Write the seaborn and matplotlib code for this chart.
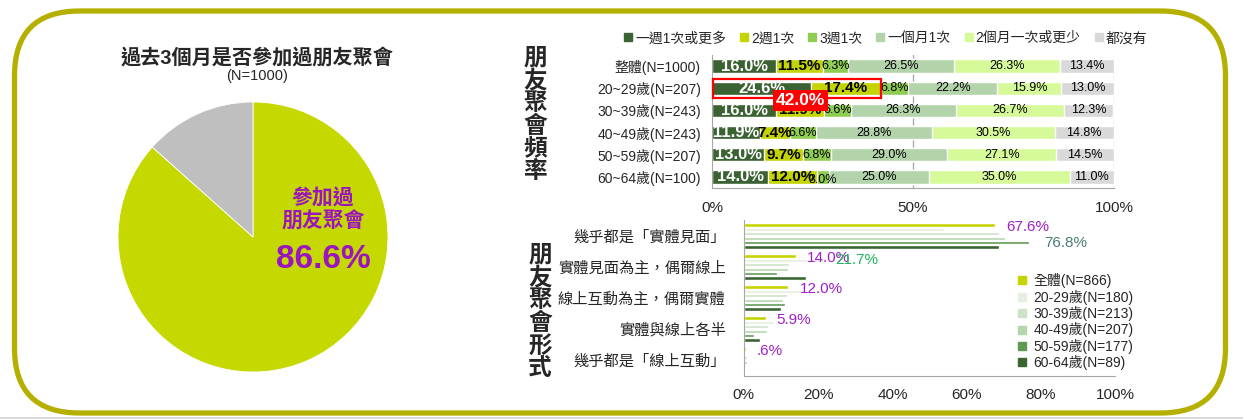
import numpy as np
import pandas as pd
import matplotlib
matplotlib.use("Agg")
import matplotlib.pyplot as plt
import seaborn as sns
from matplotlib.patches import FancyBboxPatch, Rectangle
from matplotlib.lines import Line2D

sns.set_style("white")
plt.rcParams['font.family'] = ['Liberation Sans', 'Noto Sans CJK TC', 'DejaVu Sans']

# pie: 過去3個月是否參加過朋友聚會
pie_labels = ["參加過", "沒有"]
pie_values = [86.6, 13.4]
pie_colors = ["#c5d800", "#bfbfbf"]

# 朋友聚會頻率 (stacked %)
freq_rows = ["整體(N=1000)", "20~29歲(N=207)", "30~39歲(N=243)",
             "40~49歲(N=243)", "50~59歲(N=207)", "60~64歲(N=100)"]
freq_cats = ["一週1次或更多", "2週1次", "3週1次", "一個月1次", "2個月一次或更少", "都沒有"]
freq_colors = ["#3b6233", "#c3d400", "#8fcc52", "#b3d4ab", "#d6f99a", "#d9d9d9"]
weekly = [16.0, 24.6, 16.0, 11.9, 13.0, 14.0]
biweekly = [11.5, 17.4, 11.9, 7.4, 9.7, 12.0]
triweekly = [6.3, 6.8, 6.6, 6.6, 6.8, 3.0]
monthly = [26.5, 22.2, 26.3, 28.8, 29.0, 25.0]
bimonthly = [26.3, 15.9, 26.7, 30.5, 27.1, 35.0]
never = [13.4, 13.0, 12.3, 14.8, 14.5, 11.0]

# 朋友聚會形式 (grouped %)
forms = ["幾乎都是「實體見面」", "實體見面為主，偶爾線上", "線上互動為主，偶爾實體",
         "實體與線上各半", "幾乎都是「線上互動」"]
form_groups = ["全體(N=866)", "20-29歲(N=180)", "30-39歲(N=213)",
               "40-49歲(N=207)", "50-59歲(N=177)", "60-64歲(N=89)"]
form_colors = ["#c5d400", "#e6f0e2", "#cde3c8", "#b5d6ac", "#5e9a52", "#3b6433"]
form_all = [67.6, 14.0, 12.0, 5.9, 0.6]
form_20s = [53.9, 21.7, 15.5, 8.2, 0.0]
form_30s = [68.7, 12.2, 11.7, 6.5, 0.9]
form_40s = [70.3, 11.9, 10.6, 6.3, 0.9]
form_50s = [76.8, 9.0, 11.1, 2.8, 0.0]
form_60s = [68.7, 16.8, 10.0, 4.4, 0.0]

W, H = 1243, 419
fig = plt.figure(figsize=(W / 100, H / 100), dpi=100)


def box(left, top, right, bottom):
    return [left / W, 1 - bottom / H, (right - left) / W, (bottom - top) / H]


# background frame
bg = fig.add_axes([0, 0, 1, 1], zorder=-5)
bg.set_xlim(0, W)
bg.set_ylim(H, 0)
bg.axis("off")
bg.add_patch(FancyBboxPatch((14.5, 11), 1211, 402,
                            boxstyle="round,pad=0,rounding_size=65",
                            fill=False, ec="#b5b000", lw=3.8))
bg.plot([0, W], [417.5, 417.5], color="#d4d4d4", lw=1.2)

# ---- pie ----
ax_pie = fig.add_axes(box(118, 102, 388, 372))
ax_pie.pie(pie_values, colors=pie_colors, startangle=90, counterclock=False,
           wedgeprops=dict(edgecolor="white", linewidth=0.6))
ax_pie.set_xlim(-1, 1)
ax_pie.set_ylim(-1, 1)
fig.text(257 / W, 1 - 58 / H, "過去3個月是否參加過朋友聚會", ha="center", va="center",
         fontsize=14.5, fontweight="bold")
fig.text(257 / W, 1 - 76 / H, "(N=1000)", ha="center", va="center", fontsize=10.5)
ax_pie.text(0.52, 0.2, f"{pie_labels[0]}\n朋友聚會", ha="center", va="center",
            fontsize=15, fontweight="bold", color="#9b14c0", linespacing=1.2)
ax_pie.text(0.52, -0.17, f"{pie_values[0]:.1f}%", ha="center", va="center",
            fontsize=24, fontweight="bold", color="#9b14c0")

# ---- stacked frequency bars ----
freq = np.array([weekly, biweekly, triweekly, monthly, bimonthly, never]).T
cum = freq.cumsum(axis=1)
ax1 = fig.add_axes(box(712, 55, 1114, 188))
for k in reversed(range(len(freq_cats))):
    sns.barplot(x=cum[:, k], y=freq_rows, orient="h", color=freq_colors[k],
                saturation=1, width=0.6, ax=ax1)
ax1.set_xlim(0, 100)
ax1.set_ylim(5.5, -0.5)
ax1.set(xlabel="", ylabel="")
ax1.set_xticks([0, 50, 100])
ax1.set_xticklabels(["0%", "50%", "100%"], fontsize=11)
ax1.tick_params(axis="x", pad=9, length=0)
ax1.tick_params(axis="y", labelsize=10, length=0, pad=8)
for x in (50, 100):
    ax1.axvline(x, color="#a6a6a6", lw=0.9, zorder=0)
sns.despine(ax=ax1, top=True, right=True)
for s in ("left", "bottom"):
    ax1.spines[s].set_color("#a6a6a6")
for i in range(len(freq_rows)):
    for k in range(len(freq_cats)):
        v = freq[i, k]
        xc = cum[i, k] - v / 2
        yc = i + (0.12 if (k == 2 and v < 4) else 0)
        if k == 0:
            ax1.text(xc, yc, f"{v:.1f}%", ha="center", va="center", color="white",
                     fontsize=12, fontweight="bold")
        elif k == 1:
            ax1.text(xc, yc, f"{v:.1f}%", ha="center", va="center", color="black",
                     fontsize=11, fontweight="bold")
        else:
            ax1.text(xc, yc, f"{v:.1f}%", ha="center", va="center", color="black",
                     fontsize=9)
# highlight 20~29
hi = cum[1, 1]
ax1.add_patch(Rectangle((0.2, 1 - 0.43), hi - 0.2, 0.86, fill=False, ec="#ff0000",
                        lw=1.6, zorder=5, clip_on=False))
ax1.text(hi / 2 + 1, 1.55, f"{hi:.1f}%", ha="center", va="center", color="white",
         fontsize=12.5, fontweight="bold", zorder=6,
         bbox=dict(boxstyle="square,pad=0.15", fc="#ff0000", ec="none"))
h1 = [Line2D([], [], marker="s", ls="", color=c, markersize=6) for c in freq_colors]
ax1.legend(h1, freq_cats, ncol=6, loc="lower center", bbox_to_anchor=(0.43, 1.0),
           frameon=False, fontsize=10, handletextpad=0.1, columnspacing=0.9,
           borderaxespad=0.3, handlelength=0.8)

fig.text(535 / W, 1 - 115 / H, "\n".join("朋友聚會頻率"), ha="center", va="center",
         fontsize=17, fontweight="bold", linespacing=0.98)

# ---- grouped form bars ----
form_vals = [form_all, form_20s, form_30s, form_40s, form_50s, form_60s]
df = pd.DataFrame([(f, g, v) for g, vals in zip(form_groups, form_vals)
                   for f, v in zip(forms, vals)], columns=["形式", "組別", "比例"])
ax2 = fig.add_axes(box(743.7, 220.5, 1115.4, 375.5))
bw = 0.85
sns.barplot(data=df, x="比例", y="形式", hue="組別", hue_order=form_groups,
            order=forms, orient="h", palette=form_colors, saturation=1,
            width=bw, gap=0.3, dodge=True, legend=False, ax=ax2)
ax2.set_xlim(0, 100)
ax2.set_ylim(4.5, -0.5)
ax2.set(xlabel="", ylabel="")
ax2.set_xticks(range(0, 101, 20))
ax2.set_xticklabels([f"{t}%" for t in range(0, 101, 20)], fontsize=11)
ax2.tick_params(axis="x", length=0, pad=9)
ax2.tick_params(axis="y", length=0, labelsize=11, pad=13)
sns.despine(ax=ax2, top=True, right=True)
for s in ("left", "bottom"):
    ax2.spines[s].set_color("#a6a6a6")


def bar_y(form_i, grp_i):
    slot = bw / len(form_groups)
    return form_i - bw / 2 + slot * (grp_i + 0.5)


for fi, v in enumerate(form_all):
    txt = f"{v:.1f}%" if v >= 1 else f".{int(round(v * 10))}%"
    ax2.text(v + 3, bar_y(fi, 0) + 0.05, txt, ha="left", va="center",
             color="#a020c8", fontsize=11)
ax2.text(form_50s[0] + 4, bar_y(0, 4), f"{form_50s[0]:.1f}%", ha="left",
         va="center", color="#4b7a76", fontsize=11)
ax2.text(form_20s[1] + 3, bar_y(1, 1), f"{form_20s[1]:.1f}%", ha="left",
         va="center", color="#1fb25a", fontsize=11)
h2 = [Line2D([], [], marker="s", ls="", color=c, markersize=5.5) for c in form_colors]
ax2.legend(h2, form_groups, loc="upper left", bbox_to_anchor=(0.735, 0.66),
           frameon=False, fontsize=10, handletextpad=0.4, labelspacing=0.1,
           handlelength=0.8, borderaxespad=0, borderpad=0)

fig.text(540 / W, 1 - 312 / H, "\n".join("朋友聚會形式"), ha="center", va="center",
         fontsize=17, fontweight="bold", linespacing=0.98)

fig.savefig("out.png", dpi=100)
